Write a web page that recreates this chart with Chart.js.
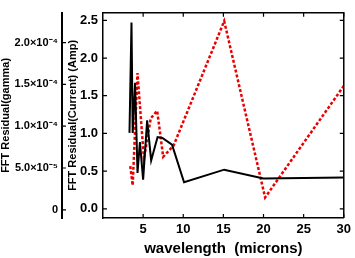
<!DOCTYPE html>
<html>
<head>
<meta charset="utf-8">
<script src="https://cdn.jsdelivr.net/npm/chart.js@4.4.0/dist/chart.umd.min.js"></script>
<style>
  html, body { margin: 0; padding: 0; background: #fff; }
  #wrap { width: 355px; height: 258px; }
</style>
</head>
<body>
<div id="wrap"><canvas id="fftChart"></canvas></div>
<script>
// wavelength (microns) vs FFT residuals
var gammaX = [3.3, 3.55, 3.7, 4.0, 4.3, 4.6, 5.0, 5.5, 6.0, 6.8, 7.4, 8.6, 10.1, 15.1, 20.0, 30.0];
var gammaY = [0.92e-4, 2.24e-4, 0.92e-4, 1.52e-4, 0.44e-4, 0.81e-4, 0.36e-4, 1.07e-4, 0.59e-4, 0.87e-4, 0.86e-4, 0.78e-4, 0.33e-4, 0.48e-4, 0.375e-4, 0.386e-4];

var currentX = [3.4, 3.7, 4.3, 5.1, 5.95, 6.75, 7.5, 8.8, 15.1, 20.2, 30.0];
var currentY = [0.565, 0.31, 1.80, 0.66, 1.20, 1.30, 0.69, 0.84, 2.49, 0.15, 1.63];

var xTicks = [5, 10, 15, 20, 25, 30];
var currentTicks = [0, 0.5, 1.0, 1.5, 2.0, 2.5];
var gammaTicks = [0, 5e-5, 1e-4, 1.5e-4, 2e-4];
var gammaLabels = ['0', '5.0\u00d710\u207b\u2075', '1.0\u00d710\u207b\u2074', '1.5\u00d710\u207b\u2074', '2.0\u00d710\u207b\u2074'];

var FONT = "'Liberation Sans', Arial, sans-serif";

function pts(xs, ys) {
  var out = [];
  for (i = 0; i < xs.length; i++) out.push({x: xs[i], y: ys[i]});
  return out;
}

// little inward tick marks + top/right box edges, IDL style
var boxTicks = {
  id: 'boxTicks',
  afterDraw: function(chart) {
    var c = chart.ctx, a = chart.chartArea;
    var sx = chart.scales.x, sy = chart.scales.y, sg = chart.scales.yGam;
    var len = 4;
    c.save();
    c.strokeStyle = '#000';
    c.lineWidth = 1.5;
    c.beginPath();
    c.moveTo(a.left, a.top); c.lineTo(a.right, a.top); c.lineTo(a.right, a.bottom);
    c.stroke();
    c.lineWidth = 1.2;
    c.beginPath();
    for (var v of xTicks) {
      var px = sx.getPixelForValue(v);
      c.moveTo(px, a.bottom); c.lineTo(px, a.bottom - len);
      c.moveTo(px, a.top); c.lineTo(px, a.top + len);
    }
    for (var v of currentTicks) {
      var py = sy.getPixelForValue(v);
      c.moveTo(a.left, py); c.lineTo(a.left + len, py);
      c.moveTo(a.right, py); c.lineTo(a.right - len, py);
    }
    for (var v of gammaTicks) {
      var py = sg.getPixelForValue(v);
      c.moveTo(sg.right, py); c.lineTo(sg.right + len, py);
    }
    c.stroke();
    c.restore();
  }
};

new Chart(document.getElementById('fftChart'), {
  type: 'line',
  data: {
    datasets: [{
      data: pts(gammaX, gammaY),
      yAxisID: 'yGam',
      borderColor: '#000',
      borderWidth: 2,
      pointRadius: 0,
      tension: 0
    }, {
      data: pts(currentX, currentY),
      yAxisID: 'y',
      borderColor: 'rgb(235,0,0)',
      borderWidth: 2.5,
      borderDash: [3, 2],
      pointRadius: 0,
      tension: 0
    }]
  },
  options: {
    responsive: true,
    maintainAspectRatio: false,
    animation: false,
    layout: { padding: { top: 1, right: 7, left: 0, bottom: 0 } },
    plugins: { legend: { display: false }, tooltip: { enabled: false } },
    scales: {
      x: {
        type: 'linear',
        min: 0, max: 30,
        afterBuildTicks: function(s) { s.ticks = xTicks.map(function(v) { return {value: v}; }); },
        afterFit: function(s) { s.height = 40; },
        grid: { display: false, drawTicks: false },
        border: { display: true, color: '#000', width: 1.5 },
        ticks: { color: '#000', padding: 4, maxRotation: 0, font: { family: FONT, size: 13, weight: 'bold' } },
        title: { display: true, text: 'wavelength  (microns)', color: '#000', padding: { top: 0, bottom: 0 },
                 font: { family: FONT, size: 15, weight: 'bold' } }
      },
      y: {
        position: 'left',
        weight: 0,
        min: -0.122, max: 2.6,
        afterBuildTicks: function(s) { s.ticks = currentTicks.map(function(v) { return {value: v}; }); },
        afterFit: function(s) { s.width = 41; },
        grid: { display: false, drawTicks: false },
        border: { display: true, color: '#000', width: 1.5 },
        ticks: { color: '#000', padding: 5, callback: function(v) { return v.toFixed(1); },
                 font: { family: FONT, size: 13, weight: 'bold' } },
        title: { display: true, text: 'FFT Residual(Current) (Amp)', color: '#000', padding: { top: 4, bottom: 0 },
                 font: { family: FONT, size: 11, weight: 'bold' } }
      },
      yGam: {
        position: 'left',
        weight: 1,
        min: -0.98e-5, max: 2.356e-4,
        afterBuildTicks: function(s) { s.ticks = gammaTicks.map(function(v) { return {value: v}; }); },
        afterFit: function(s) { s.width = 62; },
        grid: { display: false, drawTicks: false },
        border: { display: true, color: '#000', width: 2 },
        ticks: { color: '#000', padding: 4,
                 callback: function(v, idx) { return gammaLabels[idx]; },
                 font: { family: FONT, size: 11, weight: 'bold' } },
        title: { display: true, text: 'FFT Residual(gamma)', color: '#000', padding: { top: 0, bottom: 0 },
                 font: { family: FONT, size: 11, weight: 'bold', lineHeight: 1 } }
      }
    }
  },
  plugins: [boxTicks]
});
</script>
</body>
</html>
